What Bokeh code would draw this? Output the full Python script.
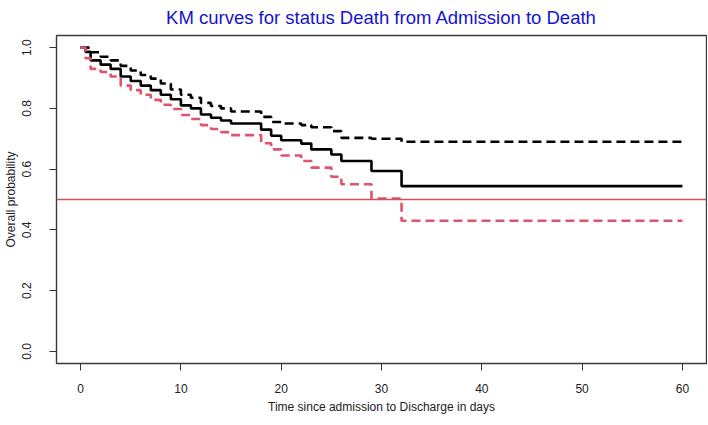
from bokeh.plotting import figure
from bokeh.models import Range1d, FixedTicker, Span, PrintfTickFormatter
from bokeh.embed import file_html
from bokeh.resources import INLINE

# Step times (days) and Kaplan-Meier survival estimates with confidence bounds
times = [0, 0.5, 1, 2, 3, 4, 5, 6, 7, 8, 9, 10, 11, 12, 13, 14, 15, 18, 19, 20, 22, 23, 25, 26, 29, 32, 60]
surv_est = [1.0, 0.986, 0.958, 0.944, 0.93, 0.905, 0.89, 0.875, 0.86, 0.845, 0.83, 0.81, 0.80, 0.78,
            0.769, 0.76, 0.75, 0.73, 0.71, 0.695, 0.684, 0.665, 0.648, 0.627, 0.594, 0.544, 0.544]
surv_upper = [1.0, 1.0, 0.985, 0.97, 0.958, 0.94, 0.925, 0.91, 0.898, 0.882, 0.862, 0.845, 0.835, 0.818,
              0.808, 0.80, 0.79, 0.772, 0.755, 0.75, 0.745, 0.738, 0.725, 0.703, 0.70, 0.69, 0.69]
surv_lower = [1.0, 0.965, 0.93, 0.92, 0.905, 0.875, 0.86, 0.845, 0.828, 0.812, 0.798, 0.778, 0.765, 0.745,
              0.732, 0.722, 0.712, 0.685, 0.665, 0.645, 0.627, 0.605, 0.575, 0.55, 0.503, 0.43, 0.43]
median_line = 0.5
x_ticks = [0, 10, 20, 30, 40, 50, 60]
y_ticks = [0.0, 0.2, 0.4, 0.6, 0.8, 1.0]
title_text = "KM curves for status Death from Admission to Death"

FONT = "Liberation Sans"

p = figure(width=707, height=424, output_backend="svg", toolbar_location=None,
           x_range=Range1d(-2.4, 62.4), y_range=Range1d(-0.04, 1.04),
           min_border_left=56, min_border_right=1, min_border_top=34, min_border_bottom=61,
           title=title_text)

p.title.text_font = FONT
p.title.text_font_size = "18.5px"
p.title.text_font_style = "normal"
p.title.text_color = "#1414CC"
p.title.align = "center"
p.title.standoff = 12
p.title.vertical_align = "top"

p.grid.visible = False
p.outline_line_color = "#3a3a3a"
p.outline_line_width = 1.4
p.background_fill_color = "white"
p.border_fill_color = "white"

p.xaxis.ticker = FixedTicker(ticks=x_ticks)
p.yaxis.ticker = FixedTicker(ticks=y_ticks)
p.yaxis.formatter = PrintfTickFormatter(format="%.1f")
for ax in (p.xaxis[0], p.yaxis[0]):
    ax.axis_line_color = None
    ax.major_tick_in = 0
    ax.major_tick_out = 7
    ax.minor_tick_line_color = None
    ax.major_tick_line_color = "#333333"
    ax.major_label_text_font = FONT
    ax.major_label_text_font_size = "12px"
    ax.major_label_text_color = "#222222"
    ax.axis_label_text_font = FONT
    ax.axis_label_text_font_size = "12px"
    ax.axis_label_text_font_style = "normal"
    ax.axis_label_text_color = "#222222"

p.xaxis.axis_label = "Time since admission to Discharge in days"
p.xaxis.major_label_standoff = 13
p.xaxis.axis_label_standoff = 4
p.yaxis.axis_label = "Overall probability"
p.yaxis.major_label_orientation = "vertical"
p.yaxis.major_label_standoff = 18
p.yaxis.axis_label_standoff = 2

p.step(times, surv_est, mode="after", line_color="black", line_width=2.6)
p.step(times, surv_upper, mode="after", line_color="black", line_width=2.6, line_dash="9 5")
p.step(times, surv_lower, mode="after", line_color="#DF536B", line_width=2.6, line_dash="9 5")

p.add_layout(Span(location=median_line, dimension="width", line_color="#D0505C", line_width=1.3))

open("out.html", "w").write(file_html(p, INLINE))
